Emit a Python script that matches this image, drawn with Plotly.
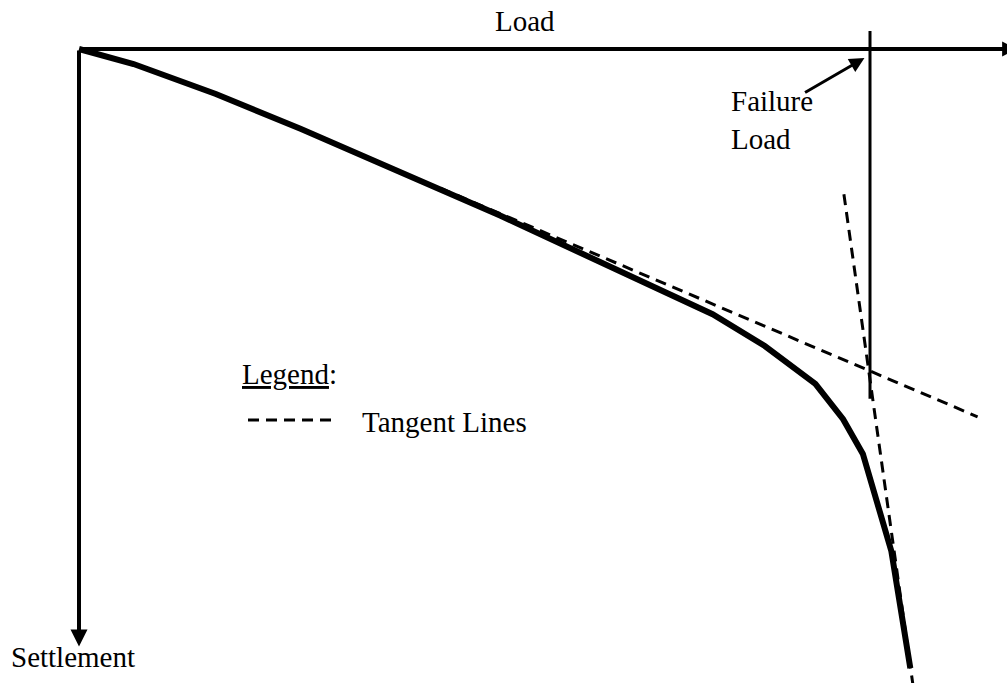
import plotly.graph_objects as go

# Load-settlement curve (load in kN, settlement in mm)
load = [0, 6.9, 17.3, 28.0, 53.3, 80.1, 86.7, 93.1, 96.6, 99.1, 102.7, 104.0, 105.1]
settlement = [0, 2.5, 7.5, 13.3, 27.8, 44.2, 49.5, 55.8, 61.7, 67.5, 83.7, 94.2, 103.2]

# Tangent lines: initial straight portion and final steep portion
tangent1_load = [45.7, 113.6]
tangent1_settlement = [23.2, 61.3]
tangent2_load = [96.7, 105.4]
tangent2_settlement = [24.2, 105.7]

failure_load = 100.0
failure_line_settlement = [-3.0, 58.3]

W, H = 1007, 683
FONT = dict(family="Liberation Serif", size=29, color="black")
DASH = "11px,7px"


def px(x):
    return x / W


def py(y):
    return 1 - y / H


fig = go.Figure()

fig.add_trace(go.Scatter(
    x=load, y=settlement, mode="lines",
    line=dict(color="black", width=6), hoverinfo="skip", showlegend=False,
))
fig.add_trace(go.Scatter(
    x=tangent1_load, y=tangent1_settlement, mode="lines",
    line=dict(color="black", width=3, dash=DASH), hoverinfo="skip", showlegend=False,
))
fig.add_trace(go.Scatter(
    x=tangent2_load, y=tangent2_settlement, mode="lines",
    line=dict(color="black", width=3, dash=DASH), hoverinfo="skip", showlegend=False,
))

# Failure load marker
fig.add_shape(type="line", xref="x", yref="y",
              x0=failure_load, x1=failure_load,
              y0=failure_line_settlement[0], y1=failure_line_settlement[1],
              line=dict(color="black", width=3))

# Axis arrows
fig.add_annotation(x=118.6, y=0, ax=0, ay=0, xref="x", yref="y", axref="x", ayref="y",
                   text="", showarrow=True, arrowhead=2, arrowsize=0.75, arrowwidth=4,
                   arrowcolor="black", standoff=0, startstandoff=0)
fig.add_annotation(x=0, y=99.6, ax=0, ay=0, xref="x", yref="y", axref="x", ayref="y",
                   text="", showarrow=True, arrowhead=2, arrowsize=0.85, arrowwidth=4,
                   arrowcolor="black", standoff=0, startstandoff=0)

# Arrow pointing at the failure load
fig.add_annotation(x=99.3, y=1.5, ax=91.6, ay=7.4, xref="x", yref="y", axref="x", ayref="y",
                   text="", showarrow=True, arrowhead=2, arrowsize=1.0, arrowwidth=3,
                   arrowcolor="black", standoff=0)

# Text labels
fig.add_annotation(x=px(525), y=py(21), xref="paper", yref="paper", text="Load",
                   showarrow=False, font=FONT, xanchor="center", yanchor="middle")
fig.add_annotation(x=px(729), y=py(120), xref="paper", yref="paper", text="Failure<br>Load",
                   showarrow=False, font=FONT, xanchor="left", yanchor="middle", align="left")
fig.add_annotation(x=px(9), y=py(657), xref="paper", yref="paper", text="Settlement",
                   showarrow=False, font=FONT, xanchor="left", yanchor="middle")
fig.add_annotation(x=px(240), y=py(374), xref="paper", yref="paper", text="<u>Legend</u>:",
                   showarrow=False, font=FONT, xanchor="left", yanchor="middle")
fig.add_annotation(x=px(360), y=py(422), xref="paper", yref="paper", text="Tangent Lines",
                   showarrow=False, font=FONT, xanchor="left", yanchor="middle")

# Legend sample dash
fig.add_shape(type="line", xref="paper", yref="paper",
              x0=px(248), x1=px(336), y0=py(420), y1=py(420),
              line=dict(color="black", width=3, dash=DASH))

x_unit = 7.91
y_unit = 6.0
fig.update_layout(
    width=W, height=H, autosize=False,
    margin=dict(l=0, r=0, t=0, b=0),
    paper_bgcolor="white", plot_bgcolor="white",
    xaxis=dict(range=[-79 / x_unit, (W - 79) / x_unit], visible=False, fixedrange=True),
    yaxis=dict(range=[(H - 49) / y_unit, -49 / y_unit], visible=False, fixedrange=True),
    showlegend=False,
)

fig.write_html("out.html", config={"displayModeBar": False})
